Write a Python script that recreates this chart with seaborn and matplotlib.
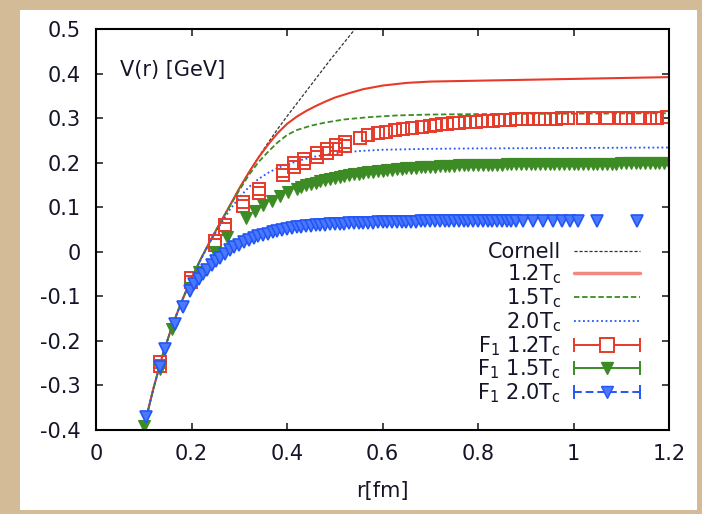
import matplotlib
matplotlib.use("Agg")
import matplotlib.pyplot as plt
from matplotlib.lines import Line2D
from matplotlib.patches import Rectangle
from matplotlib.legend_handler import HandlerLine2D, HandlerTuple
import seaborn as sns

# ---------------- data ----------------
cornell_r = [0.10, 0.11, 0.12, 0.13, 0.14, 0.15, 0.16, 0.18, 0.20, 0.22, 0.24, 0.26,
             0.28, 0.30, 0.32, 0.34, 0.36, 0.38, 0.40, 0.43, 0.46, 0.49, 0.52, 0.55]
cornell_v = [-0.395, -0.352, -0.308, -0.267, -0.230, -0.197, -0.165, -0.110, -0.060,
             -0.015, 0.026, 0.065, 0.103, 0.142, 0.178, 0.212, 0.244, 0.275, 0.304,
             0.346, 0.388, 0.430, 0.470, 0.510]

t12_r = [0.10, 0.12, 0.14, 0.16, 0.18, 0.20, 0.22, 0.24, 0.26, 0.28, 0.30, 0.32, 0.34,
         0.36, 0.38, 0.40, 0.42, 0.44, 0.46, 0.48, 0.50, 0.53, 0.56, 0.60, 0.65, 0.70,
         0.80, 0.90, 1.00, 1.10, 1.20]
t12_v = [-0.395, -0.308, -0.230, -0.165, -0.110, -0.060, -0.015, 0.026, 0.065, 0.103,
         0.142, 0.178, 0.211, 0.240, 0.266, 0.287, 0.303, 0.316, 0.327, 0.337, 0.346,
         0.356, 0.365, 0.373, 0.379, 0.382, 0.384, 0.386, 0.388, 0.390, 0.392]

t15_r = [0.10, 0.12, 0.14, 0.16, 0.18, 0.20, 0.22, 0.24, 0.26, 0.28, 0.30, 0.32, 0.34,
         0.36, 0.38, 0.40, 0.42, 0.45, 0.48, 0.52, 0.57, 0.63, 0.70, 0.80, 1.00, 1.20]
t15_v = [-0.395, -0.308, -0.230, -0.165, -0.110, -0.060, -0.015, 0.026, 0.065, 0.102,
         0.138, 0.172, 0.201, 0.224, 0.245, 0.262, 0.273, 0.283, 0.290, 0.297, 0.302,
         0.306, 0.308, 0.309, 0.310, 0.311]

t20_r = [0.10, 0.12, 0.14, 0.16, 0.18, 0.20, 0.22, 0.24, 0.26, 0.28, 0.30, 0.32, 0.34,
         0.36, 0.38, 0.40, 0.43, 0.46, 0.50, 0.55, 0.60, 0.70, 0.80, 1.00, 1.20]
t20_v = [-0.395, -0.308, -0.230, -0.165, -0.110, -0.060, -0.016, 0.024, 0.060, 0.094,
         0.122, 0.145, 0.163, 0.177, 0.188, 0.196, 0.206, 0.214, 0.221, 0.226, 0.229,
         0.231, 0.232, 0.233, 0.234]

f1_12_r = [0.134, 0.134, 0.199, 0.199, 0.249, 0.249, 0.270, 0.270, 0.308, 0.308,
           0.341, 0.341, 0.392, 0.392, 0.415, 0.415, 0.436, 0.436, 0.463, 0.463,
           0.484, 0.484, 0.503, 0.503, 0.521, 0.521, 0.553, 0.570, 0.590, 0.608,
           0.626, 0.643, 0.661, 0.682, 0.700, 0.712, 0.724, 0.736, 0.748, 0.760,
           0.772, 0.784, 0.796, 0.808, 0.820, 0.832, 0.844, 0.856, 0.868, 0.880,
           0.892, 0.904, 0.916, 0.928, 0.940, 0.952, 0.964, 0.976, 0.988, 1.020,
           1.040, 1.070, 1.100, 1.110, 1.140, 1.160, 1.175, 1.195]
f1_12_v = [-0.256, -0.248, -0.067, -0.059, 0.016, 0.024, 0.052, 0.060, 0.103, 0.111,
           0.132, 0.140, 0.173, 0.181, 0.191, 0.199, 0.200, 0.208, 0.213, 0.221,
           0.222, 0.230, 0.231, 0.239, 0.238, 0.246, 0.255, 0.262, 0.266, 0.269,
           0.273, 0.275, 0.278, 0.280, 0.283, 0.284, 0.286, 0.287, 0.288, 0.289,
           0.291, 0.291, 0.292, 0.293, 0.294, 0.294, 0.295, 0.296, 0.296, 0.297,
           0.297, 0.298, 0.298, 0.298, 0.299, 0.299, 0.299, 0.300, 0.300, 0.300,
           0.301, 0.300, 0.301, 0.300, 0.301, 0.301, 0.301, 0.302]

f1_15_r = [0.100, 0.134, 0.159, 0.197, 0.216, 0.249, 0.274, 0.314, 0.333, 0.350, 0.368,
           0.385, 0.403, 0.42, 0.43, 0.44, 0.45, 0.46, 0.47, 0.48, 0.49, 0.50, 0.51,
           0.52, 0.53, 0.54, 0.55, 0.56, 0.57, 0.58, 0.59, 0.60, 0.61, 0.62, 0.63, 0.64,
           0.65, 0.66, 0.67, 0.68, 0.69, 0.70, 0.71, 0.72, 0.73, 0.74, 0.75, 0.76, 0.77,
           0.78, 0.79, 0.80, 0.81, 0.82, 0.83, 0.84, 0.85, 0.86, 0.87, 0.88, 0.89, 0.90,
           0.91, 0.92, 0.93, 0.94, 0.95, 0.96, 0.97, 0.98, 0.99, 1.00, 1.01, 1.02, 1.03,
           1.04, 1.05, 1.06, 1.07, 1.08, 1.09, 1.10, 1.11, 1.12, 1.13, 1.14, 1.15, 1.16,
           1.17, 1.18, 1.19, 1.20]
f1_15_v = [-0.390, -0.262, -0.174, -0.081, -0.045, 0.000, 0.034, 0.076, 0.091, 0.104,
           0.115, 0.125, 0.134, 0.141, 0.145, 0.149, 0.152, 0.155, 0.158, 0.161, 0.164,
           0.166, 0.168, 0.170, 0.172, 0.174, 0.175, 0.177, 0.178, 0.180, 0.181, 0.182,
           0.183, 0.184, 0.185, 0.186, 0.187, 0.188, 0.189, 0.190, 0.190, 0.191, 0.191,
           0.192, 0.192, 0.193, 0.193, 0.194, 0.194, 0.194, 0.195, 0.195, 0.195, 0.195,
           0.195, 0.195, 0.195, 0.196, 0.196, 0.196, 0.196, 0.196, 0.196, 0.196, 0.196,
           0.197, 0.197, 0.197, 0.197, 0.197, 0.197, 0.197, 0.197, 0.198, 0.198, 0.198,
           0.198, 0.198, 0.198, 0.198, 0.198, 0.199, 0.199, 0.199, 0.199, 0.199, 0.199,
           0.200, 0.200, 0.200, 0.200, 0.200]

f1_20_r = [0.104, 0.134, 0.145, 0.165, 0.182, 0.197, 0.206, 0.215, 0.224, 0.233, 0.242,
           0.251, 0.260, 0.270, 0.280, 0.290, 0.300, 0.310, 0.320, 0.330, 0.340, 0.350,
           0.360, 0.370, 0.380, 0.390, 0.400, 0.410, 0.420, 0.430, 0.440, 0.450, 0.460,
           0.470, 0.480, 0.490, 0.500, 0.51, 0.52, 0.53, 0.54, 0.55, 0.56, 0.57, 0.58,
           0.59, 0.60, 0.61, 0.62, 0.63, 0.64, 0.65, 0.66, 0.67, 0.68, 0.69, 0.70, 0.71,
           0.72, 0.73, 0.74, 0.75, 0.76, 0.77, 0.78, 0.79, 0.80, 0.81, 0.82, 0.83, 0.84,
           0.85, 0.86, 0.87, 0.88, 0.894, 0.915, 0.936, 0.957, 0.976, 0.993, 1.010,
           1.049, 1.133]
f1_20_v = [-0.370, -0.259, -0.218, -0.162, -0.124, -0.088, -0.072, -0.062, -0.050,
           -0.040, -0.030, -0.021, -0.013, -0.005, 0.003, 0.010, 0.016, 0.021, 0.026,
           0.031, 0.035, 0.038, 0.041, 0.044, 0.046, 0.049, 0.051, 0.053, 0.055, 0.056,
           0.057, 0.058, 0.059, 0.060, 0.061, 0.062, 0.062, 0.063, 0.063, 0.064, 0.064,
           0.064, 0.065, 0.065, 0.065, 0.066, 0.066, 0.066, 0.066, 0.067, 0.067, 0.067,
           0.067, 0.067, 0.068, 0.068, 0.068, 0.068, 0.068, 0.068, 0.068, 0.068, 0.069,
           0.069, 0.069, 0.069, 0.069, 0.069, 0.069, 0.069, 0.069, 0.069, 0.069, 0.069,
           0.069, 0.069, 0.069, 0.070, 0.070, 0.070, 0.070, 0.070, 0.070, 0.070]

x_ticks = [0, 0.2, 0.4, 0.6, 0.8, 1.0, 1.2]
x_ticklabels = ["0", "0.2", "0.4", "0.6", "0.8", "1", "1.2"]
y_ticks = [-0.4, -0.3, -0.2, -0.1, 0, 0.1, 0.2, 0.3, 0.4, 0.5]
y_ticklabels = ["-0.4", "-0.3", "-0.2", "-0.1", "0", "0.1", "0.2", "0.3", "0.4", "0.5"]

labels = ["Cornell", "1.2T$_c$", "1.5T$_c$", "2.0T$_c$",
          "F$_1$ 1.2T$_c$", "F$_1$ 1.5T$_c$", "F$_1$ 2.0T$_c$"]

# ---------------- style ----------------
sns.set_style("ticks")
plt.rcParams["font.family"] = ["DejaVu Sans"]
plt.rcParams["mathtext.default"] = "regular"

RED = "#e63a2a"
GREEN = "#3d8b25"
BLUE = "#2356f5"
BLUE_FILL = "#4a78ff"
BLACK = "#333333"
TXT = "#15152a"
FS = 15

W, H = 702, 514
fig = plt.figure(figsize=(W / 100, H / 100), dpi=100, facecolor="#d4bb98")
fig.patches.append(Rectangle((20 / W, 1 - 510 / H), 677 / W, 500 / H,
                             transform=fig.transFigure, facecolor="white",
                             edgecolor="none", zorder=-5))
ax = fig.add_axes([96 / W, (H - 430) / H, 573 / W, 401 / H])
ax.set_facecolor("white")

kw = dict(ax=ax, estimator=None, sort=False, legend=False)
sns.lineplot(x=cornell_r, y=cornell_v, color=BLACK, lw=0.9, dashes=False,
             linestyle=(0, (2.5, 1.5)), **kw)
sns.lineplot(x=t12_r, y=t12_v, color=RED, lw=1.5, dashes=False, **kw)
sns.lineplot(x=t15_r, y=t15_v, color=GREEN, lw=1.3, dashes=False,
             linestyle=(0, (3, 1.5)), **kw)
sns.lineplot(x=t20_r, y=t20_v, color=BLUE, lw=1.3, dashes=False,
             linestyle=(0, (1, 1.5)), **kw)

sns.lineplot(x=f1_12_r, y=f1_12_v, linestyle="none", marker="s", ms=8.5,
             mfc="none", mec=RED, mew=1.4, **kw)
sns.lineplot(x=f1_15_r, y=f1_15_v, linestyle="none", marker="v", ms=8,
             mfc=GREEN, mec=GREEN, mew=0.8, **kw)
sns.lineplot(x=f1_20_r, y=f1_20_v, linestyle="none", marker="v", ms=8.5,
             mfc=BLUE_FILL, mec=BLUE, mew=1.2, **kw)

ax.set_xlim(0, 1.2)
ax.set_ylim(-0.4, 0.5)
ax.set_xticks(x_ticks)
ax.set_xticklabels(x_ticklabels)
ax.set_yticks(y_ticks)
ax.set_yticklabels(y_ticklabels)
ax.tick_params(direction="in", length=5, width=1.2, top=True, right=True,
               labelsize=FS, labelcolor=TXT)
ax.tick_params(axis="y", pad=11)
ax.tick_params(axis="x", pad=10)
for s in ax.spines.values():
    s.set_linewidth(1.5)
    s.set_color("black")
ax.set_xlabel("r[fm]", fontsize=FS, color=TXT, labelpad=12)
ax.set_ylabel("")
ax.text(0.042, 0.898, "V(r) [GeV]", transform=ax.transAxes, fontsize=FS,
        color=TXT, ha="left", va="center")

# ---------------- legend ----------------
h_cornell = Line2D([], [], color=BLACK, lw=0.9, linestyle=(0, (2.5, 1.5)))
h12 = Line2D([], [], color="#f08a80", lw=2.5)
h15 = Line2D([], [], color=GREEN, lw=1.3, linestyle=(0, (3, 1.5)))
h20 = Line2D([], [], color=BLUE, lw=1.3, linestyle=(0, (1, 1.5)))
cap12 = Line2D([], [], color=RED, lw=1.4, marker="|", ms=10, mew=1.4)
cap15 = Line2D([], [], color=GREEN, lw=1.4, marker="|", ms=10, mew=1.4)
cap20 = Line2D([], [], color=BLUE, lw=1.4, marker="|", ms=10, mew=1.4,
               linestyle=(0, (4, 2)))
m12 = Line2D([], [], linestyle="none", marker="s", ms=10, mfc="white", mec=RED, mew=1.4)
m15 = Line2D([], [], linestyle="none", marker="v", ms=9, mfc=GREEN, mec=GREEN)
m20 = Line2D([], [], linestyle="none", marker="v", ms=9, mfc=BLUE_FILL, mec=BLUE)
handles = [h_cornell, h12, h15, h20, (cap12, m12), (cap15, m15), (cap20, m20)]
hmap = {tuple: HandlerTuple(ndivide=1)}
for c in (cap12, cap15, cap20):
    hmap[c] = HandlerLine2D(numpoints=2, marker_pad=0)
leg = ax.legend(handles, labels, handler_map=hmap, loc="lower right",
                bbox_to_anchor=(0.95, 0.062), frameon=False, markerfirst=False,
                fontsize=FS, handlelength=3.2, handletextpad=0.6,
                labelspacing=0.01, borderpad=0, borderaxespad=0)
for t in leg.get_texts():
    t.set_color(TXT)

fig.savefig("out.png", dpi=100, facecolor=fig.get_facecolor())
